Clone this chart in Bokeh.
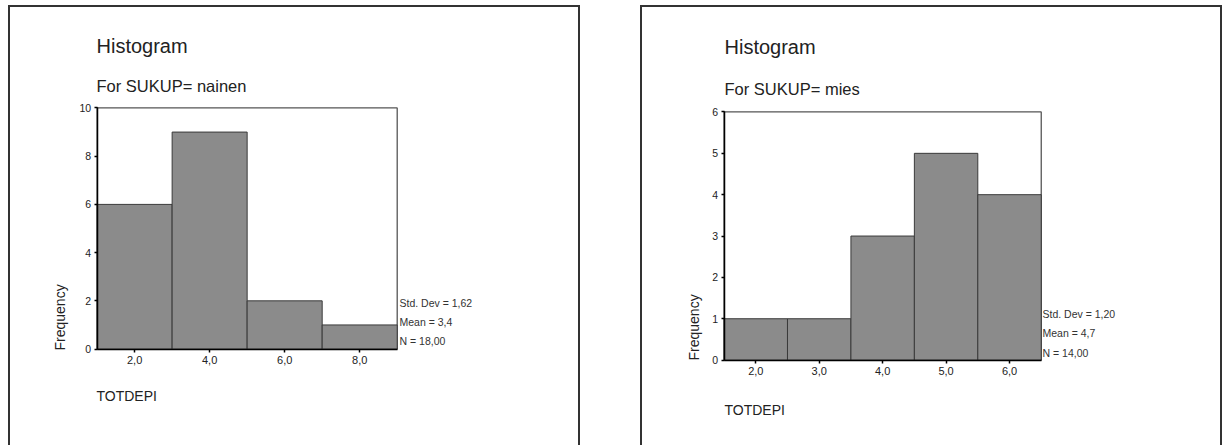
import math
from bokeh.plotting import figure
from bokeh.models import Label, FixedTicker, Range1d
from bokeh.layouts import row
from bokeh.embed import file_html
from bokeh.resources import INLINE

# ---- data: women (nainen) ----
w_edges = [1, 3, 5, 7, 9]
w_counts = [6, 9, 2, 1]
w_xticks = [2, 4, 6, 8]
w_xlabels = ["2,0", "4,0", "6,0", "8,0"]
w_yticks = [0, 2, 4, 6, 8, 10]
w_ymax = 10
w_stats = ["Std. Dev = 1,62", "Mean = 3,4", "N = 18,00"]
w_sub = "For SUKUP= nainen"

# ---- data: men (mies) ----
m_edges = [1.5, 2.5, 3.5, 4.5, 5.5, 6.5]
m_counts = [1, 1, 3, 5, 4]
m_xticks = [2, 3, 4, 5, 6]
m_xlabels = ["2,0", "3,0", "4,0", "5,0", "6,0"]
m_yticks = [0, 1, 2, 3, 4, 5, 6]
m_ymax = 6
m_stats = ["Std. Dev = 1,20", "Mean = 4,7", "N = 14,00"]
m_sub = "For SUKUP= mies"

FONT = "Liberation Sans"
BAR = "#8b8b8b"
BORDER = 2


def panel(edges, counts, xticks, xlabels, yticks, ymax, stats, sub,
          W, H, box, txt, margin):
    cw, ch = W - 2 * BORDER, H - BORDER          # canvas size (frame fills it)
    bx0, bx1, by0, by1 = box                      # data box in canvas px (top-down)
    kx = (bx1 - bx0) / (edges[-1] - edges[0])
    ky = (by1 - by0) / ymax
    xr = Range1d(edges[0] - bx0 / kx, edges[0] + (cw - bx0) / kx)
    yr = Range1d(-(ch - by1) / ky, by1 / ky)
    p = figure(width=W, height=H, output_backend="svg", toolbar_location=None,
               x_range=xr, y_range=yr, min_border=0, min_border_left=0,
               min_border_right=0, min_border_top=0, min_border_bottom=0,
               margin=margin)
    p.styles = {"border-top": f"{BORDER}px solid #333",
                "border-left": f"{BORDER}px solid #333",
                "border-right": f"{BORDER}px solid #333"}
    p.grid.visible = False
    p.outline_line_color = None
    p.background_fill_color = "white"
    p.border_fill_color = "white"

    # plot box
    p.quad(left=edges[0], right=edges[-1], bottom=0, top=ymax,
           fill_color=None, line_color="#555555", line_width=1.3)
    p.quad(left=edges[:-1], right=edges[1:], bottom=0, top=counts,
           fill_color=BAR, line_color="#3a3a3a", line_width=1)

    xa, ya = p.xaxis[0], p.yaxis[0]
    xa.fixed_location = 0
    xa.bounds = (edges[0], edges[-1])
    ya.fixed_location = edges[0]
    ya.bounds = (0, ymax)
    for ax in (xa, ya):
        ax.axis_line_color = "black"
        ax.axis_line_width = 1.5
        ax.major_tick_in = 0
        ax.major_tick_out = 3
        ax.major_tick_line_color = "black"
        ax.major_tick_line_width = 1.5
        ax.minor_tick_line_color = None
        ax.major_label_text_font = FONT
        ax.major_label_text_color = "#222222"
    xa.ticker = FixedTicker(ticks=xticks)
    xa.major_label_overrides = {t: l for t, l in zip(xticks, xlabels)}
    xa.major_label_text_font_size = "11px"
    xa.major_label_standoff = 4
    ya.ticker = FixedTicker(ticks=yticks)
    ya.major_label_text_font_size = "10.5px"
    ya.major_label_standoff = 3

    (tx, ty), sy, tty, (fx, fy), (sx, sys) = txt

    def lab(x, y, **kw):
        p.add_layout(Label(x=x, y=ch - y, x_units="screen", y_units="screen",
                           text_font=FONT, text_baseline="middle", **kw))
    lab(tx, ty, text="Histogram", text_font_size="20px", text_color="#222222")
    lab(tx, sy, text=sub, text_font_size="16.5px", text_color="#222222")
    lab(tx, tty, text="TOTDEPI", text_font_size="14px", text_color="#222222")
    lab(fx, fy, text="Frequency", angle=math.pi / 2, text_font_size="14px",
        text_align="left", text_color="#222222")
    for s, yy in zip(stats, sys):
        lab(sx, yy, text=s, text_font_size="10.5px", text_color="#333333")
    return p


p1 = panel(w_edges, w_counts, w_xticks, w_xlabels, w_yticks, w_ymax, w_stats, w_sub,
           572, 440, (86, 384, 100, 340),
           ((86, 36), 76, 386, (49, 341), (389, (293, 312, 331))),
           (5, 0, 0, 8))
p2 = panel(m_edges, m_counts, m_xticks, m_xlabels, m_yticks, m_ymax, m_stats, m_sub,
           582, 440, (81, 396, 104, 351),
           ((82, 37), 79, 400, (51, 351), (400, (304, 323, 343))),
           (5, 0, 0, 0))

layout = row(p1, p2, spacing=60)
open("out.html", "w").write(file_html(layout, INLINE))
